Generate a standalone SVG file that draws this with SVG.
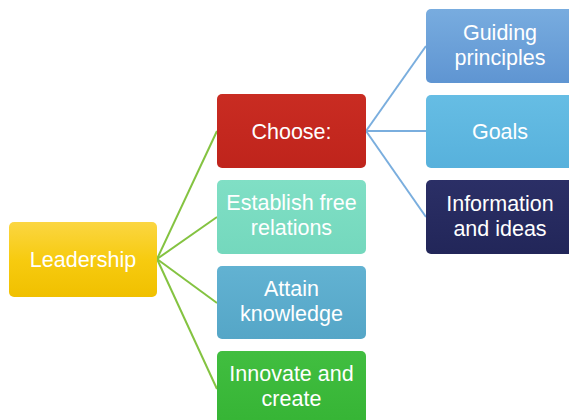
<svg xmlns="http://www.w3.org/2000/svg" width="569" height="420" viewBox="0 0 569 420">
<defs>
<linearGradient id="gLead" x1="0" y1="0" x2="0" y2="1"><stop offset="0" stop-color="#fbd642"/><stop offset="0.5" stop-color="#f7cb10"/><stop offset="1" stop-color="#f0c000"/></linearGradient>
<linearGradient id="gChoose" x1="0" y1="0" x2="0" y2="1"><stop offset="0" stop-color="#c92c22"/><stop offset="1" stop-color="#bf241c"/></linearGradient>
<linearGradient id="gEst" x1="0" y1="0" x2="0" y2="1"><stop offset="0" stop-color="#80dfc5"/><stop offset="1" stop-color="#74d8bd"/></linearGradient>
<linearGradient id="gAtt" x1="0" y1="0" x2="0" y2="1"><stop offset="0" stop-color="#62b2d2"/><stop offset="1" stop-color="#55a6c7"/></linearGradient>
<linearGradient id="gInn" x1="0" y1="0" x2="0" y2="1"><stop offset="0" stop-color="#41be40"/><stop offset="1" stop-color="#36b435"/></linearGradient>
<linearGradient id="gGuide" x1="0" y1="0" x2="0" y2="1"><stop offset="0" stop-color="#78acdf"/><stop offset="1" stop-color="#5f95d2"/></linearGradient>
<linearGradient id="gGoals" x1="0" y1="0" x2="0" y2="1"><stop offset="0" stop-color="#66bde4"/><stop offset="1" stop-color="#57b1dc"/></linearGradient>
<linearGradient id="gInfo" x1="0" y1="0" x2="0" y2="1"><stop offset="0" stop-color="#2b2f66"/><stop offset="1" stop-color="#222659"/></linearGradient>
</defs>
<style>
text{font-family:"Liberation Sans",Arial,sans-serif;font-size:21.5px;fill:#ffffff;text-anchor:middle}
.box{stroke:none}
.g{stroke:#84c341;stroke-width:2;fill:none}
.b{stroke:#7aaede;stroke-width:2;fill:none}
</style>
<rect width="569" height="420" fill="#ffffff"/>
<g id="connectors">
<line class="g" x1="157" y1="259" x2="217" y2="131"/>
<line class="g" x1="157" y1="259" x2="217" y2="217"/>
<line class="g" x1="157" y1="259" x2="217" y2="303"/>
<line class="g" x1="157" y1="259" x2="217" y2="389"/>
<line class="b" x1="366" y1="131" x2="426" y2="46"/>
<line class="b" x1="366" y1="131" x2="426" y2="131"/>
<line class="b" x1="366" y1="131" x2="426" y2="217"/>
</g>
<g id="leadership">
<rect class="box" x="9" y="222" width="148" height="75" rx="5" fill="url(#gLead)"/>
<text x="83" y="267">Leadership</text>
</g>
<g id="choose">
<rect class="box" x="217" y="94" width="149" height="74" rx="5" fill="url(#gChoose)"/>
<text x="291.5" y="139">Choose:</text>
</g>
<g id="establish">
<rect class="box" x="217" y="180" width="149" height="74" rx="5" fill="url(#gEst)"/>
<text x="291.5" y="210">Establish free</text>
<text x="291.5" y="235">relations</text>
</g>
<g id="attain">
<rect class="box" x="217" y="266" width="149" height="73" rx="5" fill="url(#gAtt)"/>
<text x="291.5" y="296">Attain</text>
<text x="291.5" y="321">knowledge</text>
</g>
<g id="innovate">
<rect class="box" x="217" y="351" width="149" height="74" rx="5" fill="url(#gInn)"/>
<text x="291.5" y="381">Innovate and</text>
<text x="291.5" y="406">create</text>
</g>
<g id="guiding">
<rect class="box" x="426" y="9" width="148" height="74" rx="5" fill="url(#gGuide)"/>
<text x="500" y="40">Guiding</text>
<text x="500" y="65">principles</text>
</g>
<g id="goals">
<rect class="box" x="426" y="95" width="148" height="73" rx="5" fill="url(#gGoals)"/>
<text x="500" y="139">Goals</text>
</g>
<g id="information">
<rect class="box" x="426" y="180" width="148" height="74" rx="5" fill="url(#gInfo)"/>
<text x="500" y="211">Information</text>
<text x="500" y="236">and ideas</text>
</g>
</svg>
